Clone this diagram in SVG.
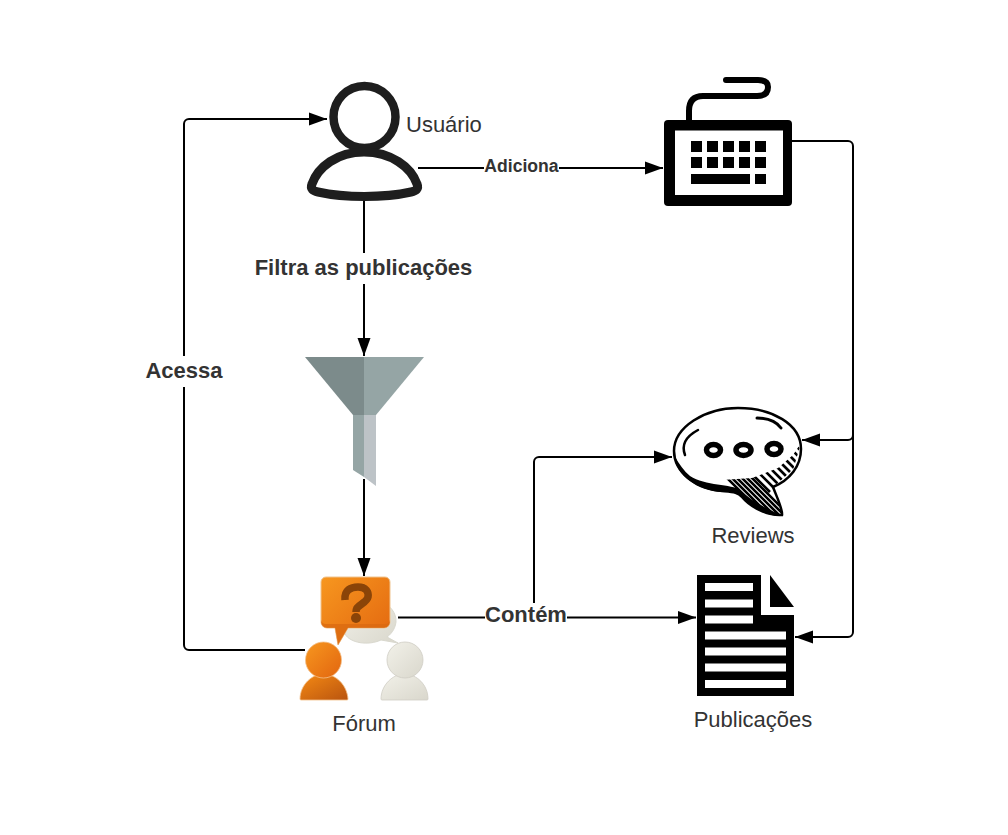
<svg xmlns="http://www.w3.org/2000/svg" width="1008" height="835" viewBox="0 0 1008 835">
<style>
.c{fill:none;stroke:#000;stroke-width:2;stroke-linejoin:round}
.t{font-family:"Liberation Sans",Arial,sans-serif;font-size:22px;fill:#333}
.b{font-weight:bold;text-anchor:middle}
.m{text-anchor:middle}
.bg{fill:#fff}
</style>
<defs>
<marker id="a" markerUnits="userSpaceOnUse" markerWidth="20" markerHeight="14" refX="18" refY="7" orient="auto"><path d="M0 .5L18 7L0 13.500Z" fill="#000"/></marker>
<linearGradient id="o1" x1="0" y1="0" x2="1" y2="1"><stop offset="0" stop-color="#f7971f"/><stop offset="1" stop-color="#e2650f"/></linearGradient>
<linearGradient id="o2" x1="0" y1="0" x2="1" y2="1"><stop offset="0" stop-color="#f58a14"/><stop offset="1" stop-color="#b9540f"/></linearGradient>
<linearGradient id="g1" x1="0" y1="0" x2="1" y2="1"><stop offset="0" stop-color="#f2f1e9"/><stop offset="1" stop-color="#d9d7cc"/></linearGradient>
<clipPath id="hatch"><path d="M801 443L793 455L778 468L752 478L722 480L722 487L736 491L752 506L783 516L773 487L793 470Z"/></clipPath>
</defs>
<rect width="1008" height="835" fill="#fff"/>
<g id="connectors">
<path class="c" marker-end="url(#a)" d="M305 650H189a5 5 0 0 1-5-5V124a5 5 0 0 1 5-5H327"/>
<path class="c" marker-end="url(#a)" d="M418 168H663"/>
<path class="c" marker-end="url(#a)" d="M364 200V356"/>
<path class="c" marker-end="url(#a)" d="M364 479V576"/>
<path class="c" marker-end="url(#a)" d="M398 617.500H696"/>
<path class="c" marker-end="url(#a)" d="M534 617V462a5 5 0 0 1 5-5H672"/>
<path class="c" marker-end="url(#a)" d="M792 141H848a5 5 0 0 1 5 5V632a5 5 0 0 1-5 5H795"/>
<path class="c" marker-end="url(#a)" d="M853 435a5 5 0 0 1-5 5H802"/>
<rect class="bg" x="484" y="157" width="75" height="18"/>
<rect class="bg" x="253" y="253" width="221" height="31"/>
<rect class="bg" x="145" y="356" width="78" height="31"/>
<rect class="bg" x="485" y="603" width="82" height="26"/>
<text class="t b" x="521.500" y="171.500" style="font-size:17.6px">Adiciona</text>
<text class="t b" x="363.500" y="275">Filtra as publicações</text>
<text class="t b" x="184" y="378">Acessa</text>
<text class="t b" x="526" y="622">Contém</text>
</g>
<g id="usuario">
<circle cx="364.500" cy="117" r="31" fill="#fff" stroke="#1e1e1e" stroke-width="8.500"/>
<path d="M364 152C337 152 318 167 312 184C310 189 313 191 318 192C345 198 384 198 411 192C416 191 419 189 417 184C411 167 391 152 364 152Z" fill="#fff" stroke="#1e1e1e" stroke-width="9" stroke-linejoin="round"/>
<text class="t" x="406" y="132">Usuário</text>
</g>
<g id="teclado">
<path d="M689 122V111Q689 96 703 96H757Q768 96 768 87Q768 80 758 80H726" fill="none" stroke="#000" stroke-width="6" stroke-linecap="round"/>
<rect x="664" y="120" width="128" height="86" rx="4" fill="#000"/>
<rect x="675" y="130.500" width="108" height="64.500" fill="#fff"/>
<path d="M691 141h11v11h-11zM707 141h11v11h-11zM723 141h11v11h-11zM739 141h11v11h-11zM755 141h11v11h-11zM691 157h11v11h-11zM707 157h11v11h-11zM723 157h11v11h-11zM739 157h11v11h-11zM755 157h11v11h-11zM691 174h59v10h-59zM755 174h11v10h-11z" fill="#000"/>
</g>
<g id="funil">
<path d="M305 357H364V415H353Z" fill="#7c8b8b"/>
<path d="M364 357H424L376 415H364Z" fill="#95a5a5"/>
<path d="M353 415H364V477L353 470Z" fill="#95a5a5"/>
<path d="M364 415H376V486L364 477Z" fill="#bdc3c7"/>
</g>
<g id="reviews">
<path d="M738 408C705 408 674 427 674 451C674 472 696 489 722 491C733 492 738 492 742 497C752 509 770 516 782 515C783 510 778 500 773 487C790 480 801 466 801 449C801 424 772 408 738 408Z" fill="#fff" stroke="#000" stroke-width="2.500"/>
<path d="M674 455C676 476 698 491 722 492C733 492 738 492 742 497C752 509 770 517 783 516C770 510 752 502 740 490C732 484 705 486 690 476C684 471 679 464 674 455Z" fill="#000"/>
<g clip-path="url(#hatch)" fill="none" stroke="#000" stroke-width="2.600">
<path d="M782 432L806 456M778 436L802 460M774 440L798 464M770 444L794 468M766 448L790 472M762 452L786 476M758 456L782 480M754 460L778 484M750 464L774 488M746 468L770 492M742 468L790 516M737 468L785 516M732 468L780 516M727 468L775 516M722 468L770 516M717 468L765 516"/>
</g>
<path d="M685 455C682 447 683 438 698 430" fill="none" stroke="#000" stroke-width="2.500" stroke-linecap="round"/>
<path d="M757 418C768 418 776 421 781 428" fill="none" stroke="#000" stroke-width="3" stroke-linecap="round"/>
<ellipse cx="713.500" cy="450" rx="7" ry="5.500" fill="#fff" stroke="#000" stroke-width="5.500"/>
<ellipse cx="743.500" cy="450" rx="7.500" ry="5.500" fill="#fff" stroke="#000" stroke-width="5.500"/>
<ellipse cx="774" cy="449" rx="7" ry="5.500" fill="#fff" stroke="#000" stroke-width="5.500"/>
<text class="t m" x="753" y="543">Reviews</text>
</g>
<g id="publicacoes">
<path d="M697 575H761V615H794V696H697Z" fill="#000"/>
<path d="M770 575L794 607H770Z" fill="#000"/>
<path d="M705 583h48v8h-48zM705 599.500h48v8h-48zM705 615.500h48v8h-48zM705 631.500h81v8h-81zM705 647.500h81v8h-81zM705 663.500h81v8h-81zM705 680h81v8h-81z" fill="#fff"/>
<text class="t m" x="753" y="727">Publicações</text>
</g>
<g id="forum">
<path d="M345 600C372 592 397 604 396 622C395 630 390 635 387 637L398 643L381 640C368 646 350 643 345 634Z" fill="url(#g1)" stroke="#d9d8ce"/>
<path d="M326 577H385a5 5 0 0 1 5 5V622a6 6 0 0 1-6 6H348L338 645L335 628H327a6 6 0 0 1-6-6V582a5 5 0 0 1 5-5Z" fill="url(#o1)" stroke="#f0c48f" stroke-width="1"/>
<path d="M321 620v2a6 6 0 0 0 6 6h8l3 17 10-17h36a6 6 0 0 0 6-6v-2a5 5 0 0 1-5 4h-59a5 5 0 0 1-5-4z" fill="#d9680f" opacity=".7"/>
<path d="M345 600C344 590 351 587 358 587C366 587 369 592 368 597C367 602 360 604 357 608C356 610 356 611 356 612" fill="none" stroke="#8a4408" stroke-width="7.500"/>
<circle cx="356" cy="618" r="5" fill="#8a4408"/>
<path d="M300 699C300 685 312 674 323 674C336 674 347 685 348 699a1 1 0 0 1-1 1H301a1 1 0 0 1-1-1Z" fill="url(#o2)" stroke="#f4c08a" stroke-width=".8"/>
<circle cx="323.500" cy="660" r="18" fill="url(#o1)" stroke="#f4c08a" stroke-width=".8"/>
<path d="M381 699C381 685 393 674 404 674C417 674 428 685 428 699a1 1 0 0 1-1 1H382a1 1 0 0 1-1-1Z" fill="url(#g1)" stroke="#cfcdc4" stroke-width=".8"/>
<circle cx="405" cy="660" r="18" fill="url(#g1)" stroke="#cfcdc4" stroke-width=".8"/>
<text class="t m" x="364" y="731">Fórum</text>
</g>
</svg>
